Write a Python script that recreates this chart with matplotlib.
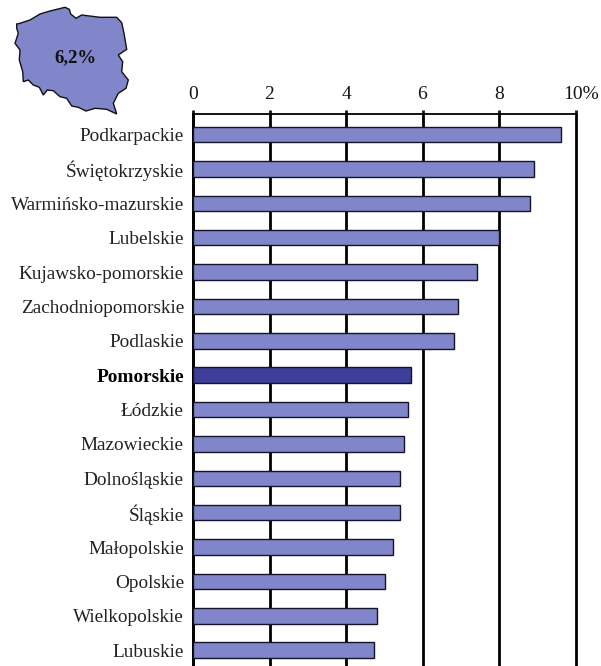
import matplotlib
matplotlib.use("Agg")
import matplotlib.pyplot as plt
from matplotlib.patches import Polygon
from matplotlib.transforms import ScaledTranslation

plt.rcParams['font.family'] = ['Liberation Serif', 'DejaVu Serif']

regions = ["Podkarpackie", "Świętokrzyskie", "Warmińsko-mazurskie", "Lubelskie",
           "Kujawsko-pomorskie", "Zachodniopomorskie", "Podlaskie", "Pomorskie",
           "Łódzkie", "Mazowieckie", "Dolnośląskie", "Śląskie", "Małopolskie",
           "Opolskie", "Wielkopolskie", "Lubuskie"]
values = [9.62, 8.92, 8.82, 8.0, 7.43, 6.93, 6.83, 5.71, 5.63, 5.52, 5.42, 5.42,
          5.22, 5.03, 4.82, 4.72]
highlight = "Pomorskie"
xticks = [0, 2, 4, 6, 8, 10]
xticklabels = ["0", "2", "4", "6", "8", "10%"]
national_label = "6,2%"
# Outline of Poland (decorative map, in reference pixels)
poland_x = [16.7, 20, 30, 40, 50, 65, 69.3, 70.7, 76, 81.7, 100, 116.7, 121.7, 124, 126.7,
            118.3, 122.7, 121.7, 128.3, 126, 118.3, 113.3, 116.7, 106.7, 95, 86, 78.3, 71.7,
            66.7, 60, 53.3, 47.3, 43.3, 39.3, 33.3, 28.3, 23.3, 22.7, 19.3, 20, 15, 18.3, 16.7]
poland_y = [24, 23.3, 20, 14, 11, 7.3, 9.3, 14, 18.3, 15, 17.3, 17.3, 22.7, 33.3, 49.3,
            55, 61.7, 71.7, 80, 88.3, 93.3, 103.3, 114, 109.3, 108.3, 111, 107.3, 106,
            98.3, 96.7, 90.7, 90, 95, 87.3, 85, 80, 81.7, 71.7, 60, 50, 43.3, 33.3, 28.3]

W, H = 601, 666
fig = plt.figure(figsize=(W / 100, H / 100), dpi=100, facecolor="white")
ax = fig.add_axes([193 / W, 0, (575.5 - 193) / W, (H - 114) / H])

ypos = list(range(len(regions)))
colors = ["#3C3F99" if r == highlight else "#8185C9" for r in regions]
ax.barh(ypos, values, height=0.45, color=colors, edgecolor="#15152A", linewidth=1.0, zorder=3)
ax.set_xlim(0, 10)
ax.set_ylim(15.46, -0.6)
ax.set_xticks(xticks)
ax.set_xticklabels(xticklabels)
ax.set_yticks(ypos)
ax.set_yticklabels(regions)
ax.xaxis.tick_top()
ax.grid(axis="x", color="black", linewidth=2.0, zorder=1)
for gl in ax.get_xgridlines():
    gl.set_clip_on(False)
ax.set_axisbelow(True)
ax.tick_params(axis="x", length=3.0, width=2.0, pad=5, labelsize=14, colors="#151515")
ax.tick_params(axis="y", length=0, pad=6.5, labelsize=13.9, colors="#222222")
ax.get_xticklabels()[-1].set_transform(
    ax.get_xticklabels()[-1].get_transform() + ScaledTranslation(6 / 100, 0, fig.dpi_scale_trans))
for lab in ax.get_yticklabels():
    if lab.get_text() == highlight:
        lab.set_fontweight("bold")
        lab.set_color("black")
for side in ("right", "bottom"):
    ax.spines[side].set_visible(False)
ax.spines["top"].set_linewidth(1.3)
ax.spines["left"].set_linewidth(2.0)

mp = fig.add_axes([0, 0, 1, 1], facecolor="none")
mp.set_xlim(0, W)
mp.set_ylim(H, 0)
mp.axis("off")
mp.add_patch(Polygon(list(zip(poland_x, poland_y)), closed=True, facecolor="#8185C9",
                     edgecolor="#111111", linewidth=1.0))
mp.text(75, 57.5, national_label, fontsize=13.5, fontweight="bold", ha="center", va="center",
        color="#111111")

fig.savefig("out.png", dpi=100)
